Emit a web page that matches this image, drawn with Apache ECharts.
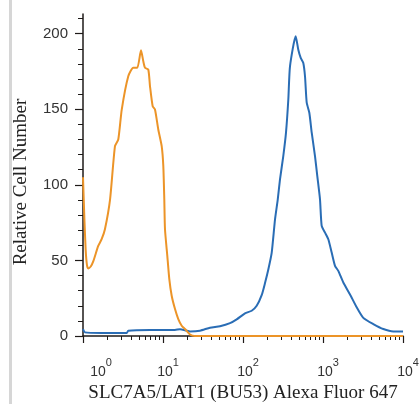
<!DOCTYPE html>
<html>
<head>
<meta charset="utf-8">
<script src="https://cdn.jsdelivr.net/npm/echarts@6/dist/echarts.min.js"></script>
<style>html,body{margin:0;padding:0;background:#fff}#c{width:420px;height:404px}</style>
</head>
<body>
<div id="c"></div>
<script>
// X tick positions (decades) and minor ticks
const xMajorTicks = [1, 10, 100, 1000, 10000];
const xMinorTicks = [2,3,4,5,6,7,8,9,20,30,40,50,60,70,80,90,200,300,400,500,600,700,800,900,2000,3000,4000,5000,6000,7000,8000,9000];
const yMajorTicks = [0, 50, 100, 150, 200];
const yMinorTicks = [10,20,30,40,60,70,80,90,110,120,130,140,160,170,180,190,210];

// Orange (control) histogram: [fluorescence, count]
const orangeX = [1.0,1.04,1.08,1.12,1.16,1.25,1.35,1.55,1.71,1.88,2.18,2.51,2.76,3.05,3.68,4.25,4.77,5.31,5.67,5.96,6.55,6.88,7.43,7.94,8.73,9.63,10.09,10.38,10.59,11.32,11.99,12.84,14.13,15.53,17.13,18.84,21.76,25,10000];
const orangeY = [105,78,57,47,44.7,46,49.7,59.6,64,70.6,90.4,125.6,130,149.8,171.8,177.4,177.4,189,181.7,177.4,176.2,165.2,152,149.8,136.6,125.6,112.4,90.4,70.6,53,37.6,26.6,17.8,11.2,6.8,4.6,1,0,0];

// Blue (stained) histogram
const blueX = [1,1.06,1.71,3.52,3.68,6.88,14.13,16.3,21.76,29,38.7,51.6,68.8,83.4,105.9,128.4,148.3,171.2,188.4,207.2,228.3,251.2,271.5,290,318.8,344.7,368.5,386.7,455.7,491.2,526.4,567.2,595.7,625.8,674.6,722.8,794.3,848.7,917.3,963,1059,1165,1284,1413,1553,1794,2176,2636,3190,4253,5675,7563,10000];
const blueY = [4.6,2.4,2,2,3.5,4,4,4.5,3,3.5,5.5,6.5,8.5,11,15,16.7,20,27,35,44,55,77,90,103.6,119,134.5,156.4,178.4,198.2,189.4,184,180.6,171.8,154.3,147.7,134.5,119,105.8,90.4,72.8,68.4,64,55.2,46.4,43.1,35.4,27.5,19,12,7.9,4.6,3,3];

const xTitle = 'SLC7A5/LAT1 (BU53) Alexa Fluor 647';
const yTitle = 'Relative Cell Number';

const pair = (xs, ys) => xs.map((x, i) => [x, ys[i]]);
const axisColor = '#1e1a18';

const chart = echarts.init(document.getElementById('c'), null, {renderer: 'canvas'});
chart.setOption({
  backgroundColor: '#fff',
  animation: false,
  graphic: [{type: 'rect', left: 9, top: 0, shape: {width: 3, height: 404}, style: {fill: '#d6d6d6'}, silent: true}],
  grid: {left: 83, right: 17, top: 14, bottom: 68, containLabel: false, outerBoundsMode: 'none'},
  xAxis: [{
    type: 'log', logBase: 10, min: 1, max: 10000,
    axisLine: {show: true, lineStyle: {color: axisColor, width: 1.5}},
    axisTick: {show: true, customValues: xMajorTicks, length: 7, lineStyle: {color: axisColor, width: 1.2}},
    splitLine: {show: false},
    axisLabel: {
      customValues: xMajorTicks, margin: 21, color: '#333',
      formatter: function (v) {
        const e = Math.round(Math.log10(v));
        return (e === 0 ? '{f|10}' : '{b|10}') + '{s|' + e + '}';
      },
      rich: {
        b: {fontFamily: 'Liberation Sans', fontSize: 14, color: '#333', padding: [0, 0, 0, 10], lineHeight: 22, verticalAlign: 'bottom'},
        f: {fontFamily: 'Liberation Sans', fontSize: 14, color: '#333', padding: [0, 0, 0, 36], lineHeight: 22, verticalAlign: 'bottom'},
        s: {fontFamily: 'Liberation Sans', fontSize: 11, color: '#333', lineHeight: 22, verticalAlign: 'top'}
      }
    },
    name: xTitle, nameLocation: 'middle', nameGap: 31,
    nameTextStyle: {fontFamily: 'Liberation Serif', fontSize: 19, color: '#222'}
  }, {
    type: 'log', logBase: 10, min: 1, max: 10000, position: 'bottom',
    axisLine: {show: false},
    axisTick: {show: true, customValues: xMinorTicks, length: 4, lineStyle: {color: axisColor, width: 1}},
    axisLabel: {show: false}, splitLine: {show: false}
  }],
  yAxis: [{
    type: 'value', min: 0, max: 213,
    axisLine: {show: true, lineStyle: {color: axisColor, width: 1.5}},
    axisTick: {show: true, customValues: yMajorTicks, length: 8, lineStyle: {color: axisColor, width: 1.2}},
    axisLabel: {customValues: yMajorTicks, margin: 15, fontFamily: 'Liberation Sans', fontSize: 15, color: '#333'},
    splitLine: {show: false},
    name: yTitle, nameLocation: 'middle', nameGap: 52,
    nameTextStyle: {fontFamily: 'Liberation Serif', fontSize: 19, color: '#222', padding: [0, 14, 0, 0]}
  }, {
    type: 'value', min: 0, max: 213, position: 'left',
    axisLine: {show: false},
    axisTick: {show: true, customValues: yMinorTicks, length: 5, lineStyle: {color: axisColor, width: 1}},
    axisLabel: {show: false}, splitLine: {show: false}
  }],
  series: [{
    type: 'line', xAxisIndex: 0, yAxisIndex: 0, data: pair(blueX, blueY),
    showSymbol: false, smooth: 0.2, lineStyle: {color: '#2a6db5', width: 2}, z: 2
  }, {
    type: 'line', xAxisIndex: 0, yAxisIndex: 0, data: pair(orangeX, orangeY),
    showSymbol: false, smooth: 0.2, lineStyle: {color: '#ec9428', width: 2}, z: 3
  }]
});
</script>
</body>
</html>
